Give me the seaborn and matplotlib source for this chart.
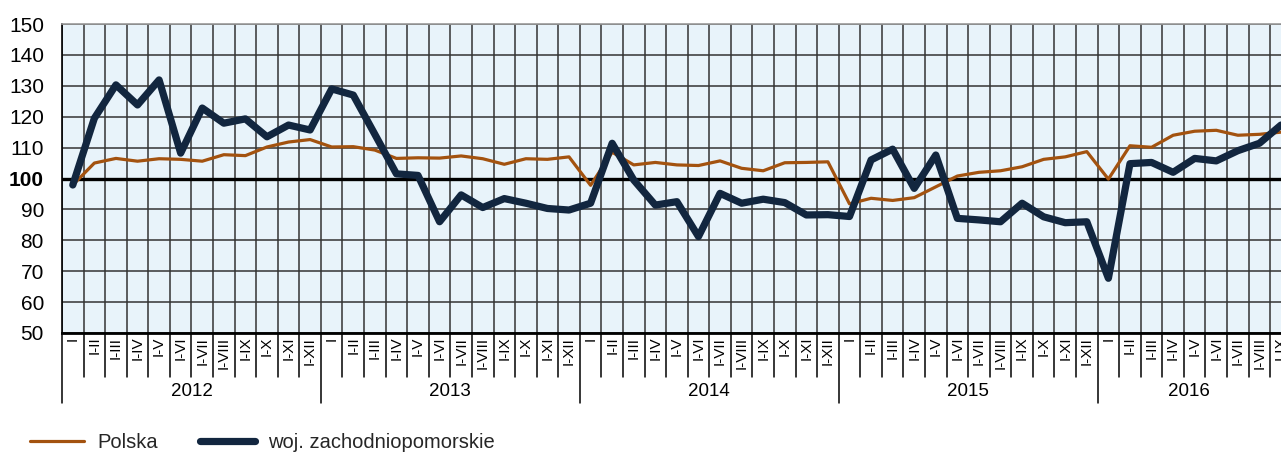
import matplotlib
matplotlib.use("Agg")
import matplotlib.pyplot as plt
import numpy as np
import pandas as pd
import seaborn as sns
from matplotlib.lines import Line2D

sns.set_theme(style="white")
plt.rcParams["font.family"] = ["Liberation Sans", "DejaVu Sans"]

years = ["2012", "2013", "2014", "2015", "2016"]
roman = ["I", "II", "III", "IV", "V", "VI", "VII", "VIII", "IX", "X", "XI", "XII"]
month_labels = ["I"] + ["I-" + r for r in roman[1:]]

polska = [
    97.9, 105.0, 106.5, 105.6, 106.4, 106.2, 105.6, 107.7, 107.4, 110.2, 111.8, 112.6,
    110.2, 110.3, 109.2, 106.5, 106.7, 106.6, 107.3, 106.4, 104.6, 106.4, 106.2, 107.0,
    97.8, 108.5, 104.4, 105.2, 104.4, 104.2, 105.7, 103.3, 102.5, 105.1, 105.2, 105.4,
    91.8, 93.6, 92.9, 93.8, 97.3, 100.8, 102.0, 102.5, 103.8, 106.2, 107.0, 108.7,
    99.8, 110.6, 110.1, 114.0, 115.3, 115.6, 114.0, 114.3, 115.0,
]
zachodniopomorskie = [
    97.9, 119.5, 130.3, 123.8, 131.9, 108.2, 122.8, 117.9, 119.3, 113.5, 117.3, 115.7,
    129.0, 127.0, 114.3, 101.5, 101.0, 86.0, 94.7, 90.6, 93.5, 92.0, 90.3, 89.8,
    92.0, 111.4, 99.5, 91.4, 92.5, 81.2, 95.2, 92.0, 93.3, 92.2, 88.2, 88.3,
    87.7, 106.0, 109.5, 96.8, 107.6, 87.1, 86.6, 86.0, 92.0, 87.6, 85.7, 86.0,
    67.7, 104.8, 105.2, 102.0, 106.5, 105.7, 109.0, 111.4, 117.3,
]

series_names = ["Polska", "woj. zachodniopomorskie"]
colors = {"Polska": "#A3520F", "woj. zachodniopomorskie": "#12263F"}
widths = {"Polska": 2.3, "woj. zachodniopomorskie": 5.2}

n = len(polska)
df = pd.DataFrame({
    "idx": list(range(n)) * 2,
    "value": polska + zachodniopomorskie,
    "series": ["Polska"] * n + ["woj. zachodniopomorskie"] * n,
})

fig = plt.figure(figsize=(12.81, 4.54), dpi=100)
ax = fig.add_axes([62 / 1281, 121 / 454, 1 - 62 / 1281, 309 / 454])
ax.set_facecolor("#E8F3FA")

xmax = 56.0

ax.axhline(100, color="black", lw=2.4, zorder=2)

sns.lineplot(
    data=df, x="idx", y="value", hue="series", size="series",
    hue_order=series_names, size_order=series_names,
    palette=colors, sizes=widths, estimator=None, sort=False,
    legend=False, ax=ax, zorder=3,
)
for line in ax.lines:
    line.set_solid_joinstyle("round")
    line.set_solid_capstyle("round")
ax.set_xlabel("")
ax.set_ylabel("")

ax.set_xticks(np.arange(-0.5, n - 0.5, 1))
ax.set_xticklabels([])
ax.set_yticks(range(50, 151, 10))
ax.set_yticklabels([str(v) for v in range(50, 151, 10)], fontsize=15)
for lab in ax.get_yticklabels():
    if lab.get_text() == "100":
        lab.set_fontweight("bold")
ax.tick_params(axis="both", length=0)
ax.tick_params(axis="y", pad=13, colors="black")
ax.grid(True, color="#333333", lw=1.1)
ax.set_axisbelow(True)

for side in ["left", "bottom", "top", "right"]:
    ax.spines[side].set_visible(True)
ax.spines["left"].set_color("black")
ax.spines["left"].set_linewidth(1.2)
ax.spines["bottom"].set_color("black")
ax.spines["bottom"].set_linewidth(2)
ax.spines["top"].set_color("#999999")
ax.spines["top"].set_linewidth(1.2)
ax.spines["right"].set_visible(False)

# month / year labels under the axis
trans = ax.get_xaxis_transform()
for i in range(n):
    ax.text(i, -0.012, month_labels[i % 12], transform=trans, rotation=90,
            ha="center", va="top", fontsize=11, color="black")
for b in np.arange(-0.5, n - 0.5, 1):
    year_sep = int(b + 0.5) % 12 == 0
    ax.plot([b, b], [0, -0.227 if year_sep else -0.142], transform=trans,
            color="black", lw=1.1, clip_on=False)
for k, yr in enumerate(years):
    start = k * 12 - 0.5
    end = min(start + 12, xmax)
    ax.text((start + end) / 2, -0.19, yr, transform=trans, ha="center",
            va="center", fontsize=13.5, color="black")

ax.set_xlim(-0.5, xmax)
ax.set_ylim(50, 150)

handles = [
    Line2D([], [], color=colors[s], lw=widths[s], solid_capstyle="round")
    for s in series_names
]
fig.legend(handles, series_names, loc="center left",
           bbox_to_anchor=(30 / 1281, 11 / 454), ncol=2, frameon=False,
           fontsize=14.5, handlelength=2.7, handletextpad=0.65,
           columnspacing=2.1, borderpad=0, borderaxespad=0)

fig.savefig("out.png", dpi=100)
